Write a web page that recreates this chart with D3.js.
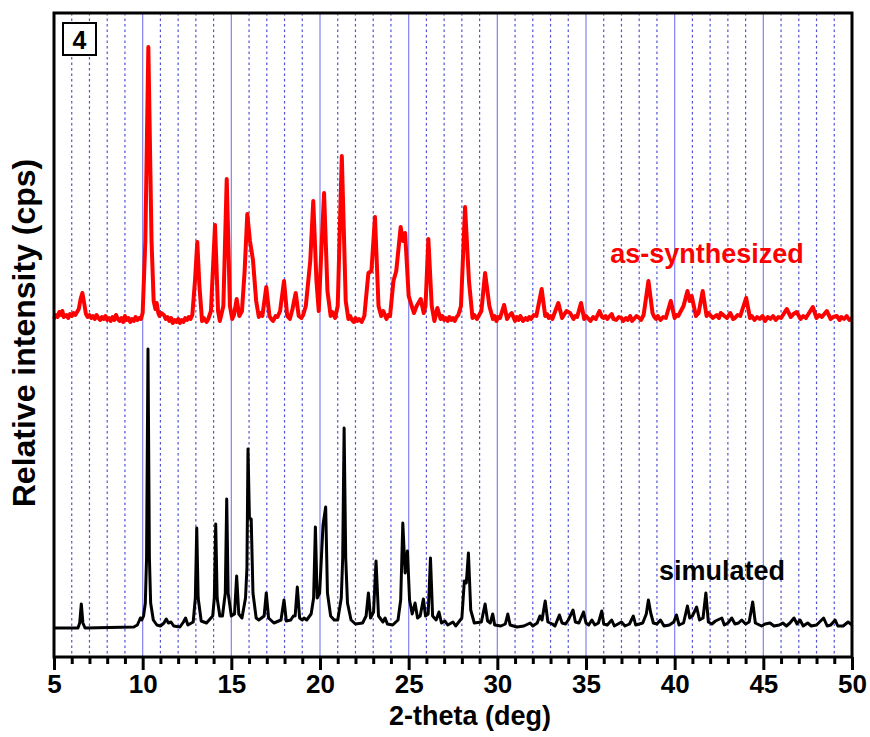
<!DOCTYPE html>
<html>
<head>
<meta charset="utf-8">
<script src="https://cdn.jsdelivr.net/npm/d3@7"></script>
<style>
  html, body { margin: 0; padding: 0; background: #fff; }
  svg { display: block; }
  text { font-family: Arial, "Liberation Sans", sans-serif; font-weight: bold; }
</style>
</head>
<body>
<svg id="chart" width="870" height="737"></svg>
<script>
// ---------------- DATA ----------------
const xTicks = [5, 10, 15, 20, 25, 30, 35, 40, 45, 50];
const xTickLabels = ["5", "10", "15", "20", "25", "30", "35", "40", "45", "50"];
const panelLabel = "4";
const seriesNames = ["as-synthesized", "simulated"];
const seriesColors = ["#ff0000", "#000000"];
const seriesOffsets = [307, 0];

// simulated pattern: [2-theta, relative intensity]
const simulated = [[5.0,0],[6.35,0],[6.45,5],[6.54,24],[6.63,5],[6.75,0],[9.5,1],[9.7,3],[9.8,7],[9.87,10],[9.95,8],[10.05,12],[10.15,25],[10.22,70],[10.3,279],[10.38,70],[10.45,25],[10.6,8],[10.8,3],[11.0,2],[11.2,5],[11.33,9],[11.45,5],[11.6,6],[11.75,2],[12.1,1],[12.3,6],[12.42,10],[12.55,3],[12.85,6],[12.97,30],[13.05,100],[13.13,30],[13.3,7],[13.6,5],[13.95,12],[14.04,30],[14.12,104],[14.2,30],[14.35,12],[14.5,12],[14.66,35],[14.74,129],[14.82,35],[15.0,12],[15.18,14],[15.3,52],[15.42,14],[15.6,10],[15.8,30],[15.88,60],[15.94,179],[16.02,110],[16.12,109],[16.22,35],[16.4,10],[16.55,8],[16.85,12],[16.97,35],[17.1,10],[17.4,5],[17.8,8],[17.97,28],[18.1,7],[18.35,8],[18.5,12],[18.6,12],[18.72,41],[18.85,10],[19.0,8],[19.1,10],[19.25,8],[19.5,14],[19.64,30],[19.74,101],[19.84,30],[19.98,35],[20.17,103],[20.32,121],[20.42,35],[20.6,12],[20.8,8],[21.0,8],[21.2,30],[21.28,70],[21.36,200],[21.45,70],[21.55,25],[21.75,8],[22.0,4],[22.4,5],[22.6,12],[22.73,35],[22.85,10],[23.02,16],[23.16,67],[23.3,12],[23.55,6],[23.67,10],[23.8,4],[24.1,3],[24.4,8],[24.55,28],[24.67,105],[24.8,55],[24.93,77],[25.05,28],[25.2,14],[25.36,25],[25.5,10],[25.65,12],[25.83,29],[25.95,12],[26.1,14],[26.23,70],[26.35,12],[26.55,8],[26.71,16],[26.85,5],[27.05,7],[27.2,3],[27.5,6],[27.65,2],[28.0,10],[28.14,47],[28.25,45],[28.37,75],[28.5,18],[28.7,5],[29.1,6],[29.31,24],[29.45,7],[29.6,5],[29.74,14],[29.85,3],[30.2,2],[30.45,4],[30.59,14],[30.72,3],[31.1,1],[31.5,2],[31.85,5],[32.0,2],[32.25,5],[32.4,12],[32.52,8],[32.7,27],[32.85,6],[33.1,4],[33.25,2],[33.5,13],[33.65,5],[33.85,4],[34.0,8],[34.27,18],[34.4,6],[34.6,5],[34.86,16],[35.0,5],[35.15,3],[35.33,8],[35.5,3],[35.7,5],[35.89,17],[36.0,4],[36.2,3],[36.45,8],[36.6,2],[36.8,4],[37.0,6],[37.2,2],[37.45,4],[37.67,12],[37.8,3],[38.2,5],[38.4,14],[38.45,20],[38.52,28],[38.65,15],[38.8,5],[39.0,4],[39.2,8],[39.4,2],[39.7,3],[39.95,6],[40.1,13],[40.25,3],[40.5,5],[40.72,22],[40.85,10],[41.0,12],[41.24,21],[41.4,8],[41.6,10],[41.76,35],[41.9,6],[42.1,4],[42.3,7],[42.66,10],[42.8,3],[43.0,5],[43.22,10],[43.4,4],[43.6,5],[43.78,8],[44.0,4],[44.2,6],[44.4,26],[44.55,5],[44.9,2],[45.1,4],[45.38,5],[45.6,2],[45.9,3],[46.1,5],[46.3,2],[46.5,5],[46.73,10],[46.9,4],[47.07,8],[47.25,2],[47.5,5],[47.7,2],[48.0,3],[48.4,10],[48.6,2],[48.8,3],[49.05,8],[49.2,2],[49.5,2],[49.78,6],[50.0,3]];

// as-synthesized pattern: [2-theta, relative intensity]
const asSynthesized = [[5.0,2],[5.1,6],[5.2,4],[5.3,9],[5.4,6],[5.47,10],[5.55,4],[5.7,6],[5.8,3],[5.9,7],[6.0,5],[6.1,8],[6.2,6],[6.3,9],[6.4,12],[6.5,22],[6.6,28],[6.7,18],[6.8,7],[6.9,4],[7.0,6],[7.1,3],[7.2,5],[7.3,2],[7.4,6],[7.5,3],[7.6,1],[7.7,4],[7.8,2],[7.9,5],[8.0,1],[8.1,3],[8.2,0],[8.3,4],[8.4,1],[8.5,6],[8.6,2],[8.7,0],[8.8,3],[8.9,-1],[9.0,5],[9.1,1],[9.2,3],[9.3,-1],[9.4,2],[9.5,0],[9.6,4],[9.7,1],[9.8,3],[9.9,2],[10.0,8],[10.15,80],[10.32,274],[10.5,80],[10.62,20],[10.72,12],[10.79,18],[10.88,8],[10.95,5],[11.05,8],[11.2,6],[11.3,2],[11.4,4],[11.5,0],[11.6,3],[11.7,-2],[11.8,1],[11.9,-1],[12.0,2],[12.1,-2],[12.2,1],[12.3,-1],[12.4,3],[12.5,1],[12.6,4],[12.7,2],[12.8,6],[12.95,40],[13.08,79],[13.2,35],[13.35,0],[13.45,3],[13.6,-1],[13.7,2],[13.85,10],[14.08,96],[14.25,10],[14.35,0],[14.55,15],[14.74,142],[14.92,15],[15.05,2],[15.15,6],[15.3,22],[15.45,5],[15.6,10],[15.75,50],[15.9,107],[16.05,80],[16.22,61],[16.4,20],[16.55,4],[16.65,8],[16.75,5],[16.97,34],[17.15,5],[17.25,2],[17.35,0],[17.5,5],[17.6,4],[17.75,10],[17.97,40],[18.15,5],[18.3,2],[18.45,12],[18.63,28],[18.8,5],[18.95,3],[19.05,6],[19.2,15],[19.45,60],[19.62,120],[19.8,40],[19.93,10],[20.05,60],[20.23,128],[20.42,30],[20.6,5],[20.7,9],[20.85,3],[21.0,15],[21.23,165],[21.45,20],[21.6,2],[21.7,5],[21.8,1],[21.9,-1],[22.0,3],[22.1,0],[22.2,2],[22.35,-1],[22.5,5],[22.73,48],[22.9,50],[23.1,104],[23.3,15],[23.45,5],[23.57,10],[23.75,2],[23.85,6],[23.95,5],[24.14,40],[24.3,50],[24.55,94],[24.68,80],[24.8,88],[25.0,25],[25.17,15],[25.3,8],[25.45,15],[25.68,22],[25.85,8],[25.95,15],[26.11,82],[26.3,15],[26.45,0],[26.62,13],[26.8,2],[26.9,5],[27.0,1],[27.1,3],[27.2,0],[27.3,4],[27.4,1],[27.5,3],[27.6,0],[27.7,4],[27.8,6],[27.95,15],[28.18,114],[28.4,40],[28.6,3],[28.7,6],[28.85,2],[29.1,10],[29.31,48],[29.55,15],[29.75,2],[29.85,5],[29.95,0],[30.05,4],[30.15,3],[30.38,16],[30.55,2],[30.65,5],[30.81,8],[31.0,0],[31.1,4],[31.2,1],[31.3,5],[31.45,0],[31.6,3],[31.7,1],[31.8,4],[31.9,2],[32.05,6],[32.2,5],[32.5,32],[32.7,5],[32.8,7],[32.9,3],[33.0,5],[33.1,2],[33.44,18],[33.65,3],[33.9,10],[34.1,8],[34.3,2],[34.4,5],[34.5,4],[34.72,18],[34.9,2],[35.0,5],[35.1,3],[35.25,0],[35.4,4],[35.55,2],[35.76,10],[35.9,4],[36.0,3],[36.1,5],[36.2,2],[36.45,7],[36.55,2],[36.7,1],[36.85,4],[37.0,3],[37.1,0],[37.25,3],[37.35,1],[37.49,5],[37.6,0],[37.7,2],[37.85,5],[38.0,3],[38.1,1],[38.25,6],[38.52,40],[38.75,8],[38.85,4],[38.95,2],[39.05,5],[39.2,1],[39.35,4],[39.5,3],[39.78,20],[40.0,3],[40.1,6],[40.2,5],[40.5,15],[40.72,30],[40.85,20],[40.96,25],[41.2,5],[41.35,8],[41.58,30],[41.8,5],[41.9,8],[42.0,6],[42.15,3],[42.37,6],[42.5,3],[42.6,8],[42.8,5],[42.95,3],[43.13,8],[43.3,2],[43.4,3],[43.55,6],[43.7,5],[44.03,23],[44.25,3],[44.35,5],[44.5,1],[44.65,4],[44.8,2],[44.95,5],[45.1,0],[45.25,4],[45.4,2],[45.55,5],[45.7,1],[45.85,4],[46.0,3],[46.32,12],[46.55,4],[46.7,7],[46.88,9],[47.1,2],[47.25,5],[47.4,3],[47.79,14],[48.0,3],[48.15,6],[48.3,4],[48.58,10],[48.8,2],[48.95,4],[49.14,5],[49.3,1],[49.4,4],[49.55,2],[49.7,5],[49.85,1],[50.0,3]];

// ---------------- CHART ----------------
const svg = d3.select("#chart");
const mLeft = 54, mRight = 852, mTop = 13, mBottom = 657;
const fontFam = 'Arial, "Liberation Sans", sans-serif';

const x = d3.scaleLinear().domain([5, 50]).range([mLeft, mRight]);
const y = d3.scaleLinear().domain([-29, 615]).range([mBottom, mTop]);

// grid lines
const minorVals = d3.range(6, 50, 1).filter(v => v % 5 !== 0);
const majorGrid = xTicks.filter(v => v > 5 && v < 50);
svg.append("g").selectAll("line").data(minorVals).join("line")
  .attr("x1", d => x(d)).attr("x2", d => x(d))
  .attr("y1", mTop).attr("y2", mBottom)
  .attr("stroke", "#3434cc").attr("stroke-width", 1.2)
  .attr("stroke-dasharray", "2.5,3").attr("opacity", 0.85);
svg.append("g").selectAll("line").data(majorGrid).join("line")
  .attr("x1", d => x(d)).attr("x2", d => x(d))
  .attr("y1", mTop).attr("y2", mBottom)
  .attr("stroke", "#8a8af2").attr("stroke-width", 1.3);

// traces
const lineGen = d3.line().x(d => x(d[0])).y(d => y(d[1]));
const traces = [asSynthesized, simulated];
traces.forEach((data, i) => {
  svg.append("path")
    .datum(data.map(d => [d[0], d[1] + seriesOffsets[i]]))
    .attr("d", lineGen)
    .attr("fill", "none")
    .attr("stroke", seriesColors[i])
    .attr("stroke-width", i === 0 ? 4 : 3)
    .attr("stroke-linejoin", "round");
});

// frame
svg.append("rect")
  .attr("x", mLeft).attr("y", mTop)
  .attr("width", mRight - mLeft).attr("height", mBottom - mTop)
  .attr("fill", "none").attr("stroke", "#000").attr("stroke-width", 3);

// x axis
const xAxis = d3.axisBottom(x).tickValues(xTicks)
  .tickFormat((d, i) => xTickLabels[i]).tickSize(13).tickPadding(5);
const gx = svg.append("g").attr("transform", `translate(0,${mBottom})`).call(xAxis);
gx.select(".domain").remove();
gx.selectAll(".tick line").attr("stroke", "#000").attr("stroke-width", 3);
gx.selectAll(".tick text").attr("font-family", fontFam).attr("font-weight", "bold")
  .attr("font-size", 26).attr("fill", "#000");
const xMinor = d3.axisBottom(x).tickValues(minorVals).tickSize(7).tickFormat("");
const gxm = svg.append("g").attr("transform", `translate(0,${mBottom})`).call(xMinor);
gxm.select(".domain").remove();
gxm.selectAll(".tick line").attr("stroke", "#000").attr("stroke-width", 3);

// axis titles
svg.append("text").attr("x", 470).attr("y", 725)
  .attr("text-anchor", "middle").attr("font-size", 27).attr("fill", "#000")
  .text("2-theta (deg)");
svg.append("text").attr("transform", "translate(35,333) rotate(-90)")
  .attr("text-anchor", "middle").attr("font-size", 32).attr("fill", "#000")
  .text("Relative intensity (cps)");

// series labels
svg.append("text").attr("x", 707).attr("y", 263).attr("text-anchor", "middle")
  .attr("font-size", 27).attr("fill", seriesColors[0]).text(seriesNames[0]);
svg.append("text").attr("x", 722).attr("y", 580).attr("text-anchor", "middle")
  .attr("font-size", 27).attr("fill", seriesColors[1]).text(seriesNames[1]);

// panel label
svg.append("rect").attr("x", 63).attr("y", 23).attr("width", 33).attr("height", 32)
  .attr("fill", "#fff").attr("stroke", "#000").attr("stroke-width", 2);
svg.append("text").attr("x", 79.5).attr("y", 48.5).attr("text-anchor", "middle")
  .attr("font-size", 25).attr("fill", "#000").text(panelLabel);
</script>
</body>
</html>
